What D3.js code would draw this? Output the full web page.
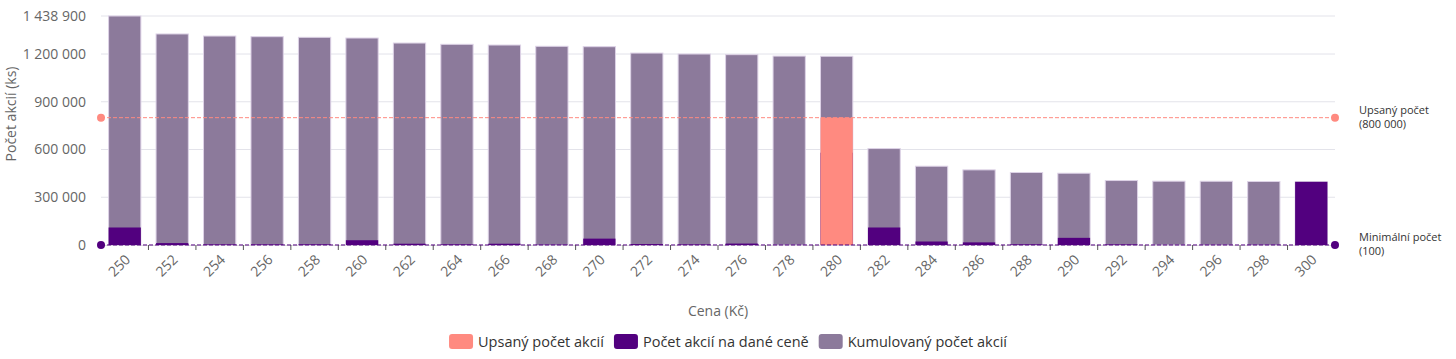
<!DOCTYPE html>
<html>
<head>
<meta charset="utf-8">
<script src="https://cdn.jsdelivr.net/npm/d3@7"></script>
<style>
  html, body { margin: 0; padding: 0; background: #fff; }
  svg { display: block; font-family: "Open Sans", "Noto Sans", sans-serif; }
</style>
</head>
<body>
<svg id="chart" width="1456" height="359"></svg>
<script>
// ---- data ----
const categories = ["250","252","254","256","258","260","262","264","266","268","270","272","274","276","278","280","282","284","286","288","290","292","294","296","298","300"];
const cumulativeShares = [1438900,1326000,1313000,1309000,1305000,1300500,1269000,1261000,1256500,1248500,1246000,1206000,1200000,1196000,1187000,1186000,606000,495000,472000,455500,451000,405000,401000,400500,399000,397000];
const sharesAtPrice = [110000,12000,4000,4000,4500,30000,8000,4500,8000,2500,40000,6000,4000,9000,1000,580000,110000,22000,16500,4500,45000,4000,500,1500,2000,397000];
const subscribedPrice = ["280"];
const subscribedShares = [800000];
const minimumShares = [100];
const yTickValues = [0,300000,600000,900000,1200000,1438900];
const seriesNames = ["Upsaný počet akcií","Počet akcií na dané ceně","Kumulovaný počet akcií"];
const refLabels = [["Upsaný počet","(800 000)"],["Minimální počet","(100)"]];
const axisTitles = {x: "Cena (Kč)", y: "Počet akcií (ks)"};

// ---- styling ----
const colSub = "#ff8a80", colPrice = "#52007f", colCum = "#8c7a9b";
const plotL = 101, plotR = 1335, plotT = 16, plotB = 245;

const svg = d3.select("#chart");
const loc = d3.formatLocale({decimal: ",", thousands: "\u00a0", grouping: [3], currency: ["", ""]});
const fmt = loc.format(",d");

const x = d3.scaleBand().domain(categories).range([plotL, plotR]).paddingInner(0.32).paddingOuter(0.16);
const y = d3.scaleLinear().domain([0, 1438900]).range([plotB, plotT]);

// grid
svg.append("g").selectAll("line").data(yTickValues.filter(d => d > 0)).join("line")
  .attr("x1", plotL).attr("x2", plotR)
  .attr("y1", d => y(d)).attr("y2", d => y(d))
  .attr("stroke", "#e3e3ea").attr("stroke-width", 1);

// y tick labels
const yAxis = d3.axisLeft(y).tickValues(yTickValues).tickFormat(fmt).tickSize(0).tickPadding(0);
const gy = svg.append("g").attr("transform", `translate(86,0)`).call(yAxis);
gy.select(".domain").remove();
gy.selectAll("text").attr("fill", "#666").style("font-size", "14px").style("font-family", "'Open Sans', sans-serif");

// y title
svg.append("text").attr("transform", "translate(16,114) rotate(-90)")
  .attr("text-anchor", "middle").attr("fill", "#666").style("font-size", "14px")
  .text(axisTitles.y);

// x axis (ticks at band boundaries)
const step = x.step();
const bounds = categories.slice(1).map(c => x(c) - x.paddingInner() * step / 2);
svg.append("line").attr("x1", plotL).attr("x2", plotR).attr("y1", plotB + 0.5).attr("y2", plotB + 0.5)
  .attr("stroke", "#ddd");
svg.append("g").selectAll("line").data(bounds).join("line")
  .attr("x1", d => d).attr("x2", d => d).attr("y1", plotB).attr("y2", plotB + 5)
  .attr("stroke", "#555").attr("stroke-width", 1);

svg.append("g").selectAll("text").data(categories).join("text")
  .attr("transform", d => `translate(${x(d) + x.bandwidth() / 2 + 3},${plotB + 12}) rotate(-45)`)
  .attr("text-anchor", "end").attr("dy", "0.35em")
  .attr("fill", "#666").style("font-size", "14px")
  .text(d => d);

svg.append("text").attr("x", (plotL + plotR) / 2).attr("y", 316)
  .attr("text-anchor", "middle").attr("fill", "#666").style("font-size", "14px")
  .text(axisTitles.x);

// bars
svg.append("g").selectAll("rect").data(categories).join("rect")
  .attr("x", d => x(d)).attr("width", x.bandwidth())
  .attr("y", (d, i) => y(cumulativeShares[i])).attr("height", (d, i) => plotB - y(cumulativeShares[i]))
  .attr("fill", colCum).attr("stroke", "#ddd2e6").attr("stroke-width", 1);
svg.append("g").selectAll("rect").data(categories).join("rect")
  .attr("x", d => x(d)).attr("width", x.bandwidth())
  .attr("y", (d, i) => y(sharesAtPrice[i])).attr("height", (d, i) => plotB - y(sharesAtPrice[i]))
  .attr("fill", colPrice);
svg.append("g").selectAll("rect").data(subscribedPrice).join("rect")
  .attr("x", d => x(d)).attr("width", x.bandwidth())
  .attr("y", (d, i) => y(subscribedShares[i])).attr("height", (d, i) => plotB - y(subscribedShares[i]))
  .attr("fill", colSub);

// reference lines
function refLine(val, col, labels) {
  const yy = y(val);
  svg.append("line").attr("x1", plotL).attr("x2", plotR).attr("y1", yy).attr("y2", yy)
    .attr("stroke", col).attr("stroke-width", 1).attr("stroke-dasharray", "4,2");
  svg.append("circle").attr("cx", plotL).attr("cy", yy).attr("r", 4).attr("fill", col);
  svg.append("circle").attr("cx", plotR).attr("cy", yy).attr("r", 4).attr("fill", col);
  svg.append("text").attr("x", 1359).attr("y", yy - 4).attr("fill", "#333").style("font-size", "11px").text(labels[0]);
  svg.append("text").attr("x", 1359).attr("y", yy + 10).attr("fill", "#333").style("font-size", "11px").text(labels[1]);
}
refLine(subscribedShares[0], colSub, refLabels[0]);
refLine(minimumShares[0], colPrice, refLabels[1]);

// legend
const legCols = [colSub, colPrice, colCum];
const lg = svg.append("g");
let lx = 0;
seriesNames.forEach((n, i) => {
  const g = lg.append("g").attr("transform", `translate(${lx},0)`);
  g.append("rect").attr("x", 0).attr("y", 334).attr("width", 24).attr("height", 15).attr("rx", 3).attr("fill", legCols[i]);
  const t = g.append("text").attr("x", 29).attr("y", 346.5).attr("fill", "#333").style("font-size", "14.5px").text(n);
  lx += 29 + t.node().getComputedTextLength() + 10;
});
const lw = lx - 10;
lg.attr("transform", `translate(${728 - lw / 2},0)`);
</script>
</body>
</html>
